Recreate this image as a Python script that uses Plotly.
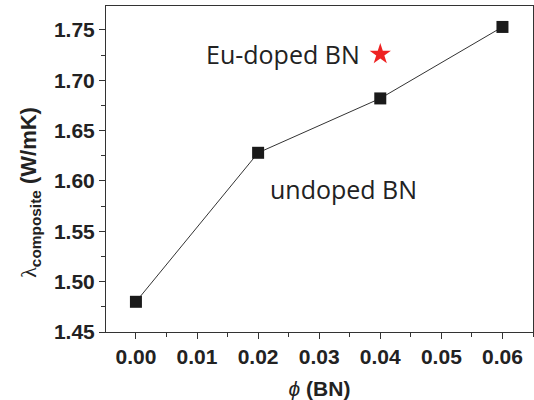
import plotly.graph_objects as go

phi = [0.00, 0.02, 0.04, 0.06]
lam = [1.480, 1.628, 1.682, 1.753]
eu_phi = [0.04]
eu_lam = [1.726]
xticks = [0.00, 0.01, 0.02, 0.03, 0.04, 0.05, 0.06]
yticks = [1.45, 1.50, 1.55, 1.60, 1.65, 1.70, 1.75]

fig = go.Figure()
fig.add_trace(go.Scatter(x=phi, y=lam, mode="lines+markers",
                         line=dict(color="#333333", width=1),
                         marker=dict(symbol="square", size=12, color="#1a1a1a"),
                         showlegend=False))
fig.add_trace(go.Scatter(x=eu_phi, y=eu_lam, mode="markers",
                         marker=dict(symbol="star", size=16, color="#ee2222", line=dict(width=0)),
                         showlegend=False))
fig.add_annotation(x=0.0370, y=1.726, text="Eu-doped BN", showarrow=False,
                   xanchor="right", yanchor="middle",
                   font=dict(family="Open Sans", size=25, color="#222222"))
fig.add_annotation(x=0.0339, y=1.592, text="undoped BN", showarrow=False,
                   xanchor="center", yanchor="middle",
                   font=dict(family="Open Sans", size=25, color="#222222"))
# y-axis title
fig.add_annotation(xref="paper", yref="paper", x=-0.178, y=0.43, textangle=-90,
                   text="<span style='font-family:Liberation Serif'>λ</span><sub><b>composite</b></sub> <b>(W/mK)</b>",
                   showarrow=False, xanchor="center", yanchor="middle",
                   font=dict(family="Liberation Sans", size=22, color="#222222"))

axis_font = dict(family="Liberation Sans", size=21, color="#222222")
fig.update_xaxes(range=[-0.0049, 0.0650], tickvals=xticks,
                 ticktext=[f"<b>{v:.2f}</b>" for v in xticks],
                 ticks="outside", ticklen=6, tickwidth=1, tickcolor="#333333",
                 minor=dict(ticks="outside", ticklen=4, dtick=0.005, tickcolor="#333333"),
                 showline=True, linecolor="#333333", linewidth=1, mirror=True,
                 showgrid=False, zeroline=False, tickfont=axis_font, automargin=False,
                 title=dict(text="<i>ϕ</i> <b>(BN)</b>", font=dict(family="Liberation Sans", size=21, color="#222222")))
fig.update_yaxes(range=[1.45, 1.7738], tickvals=yticks,
                 ticktext=[f"<b>{v:.2f}</b>" for v in yticks],
                 ticks="outside", ticklen=6, tickwidth=1, tickcolor="#333333",
                 minor=dict(ticks="outside", ticklen=4, dtick=0.025, tickcolor="#333333"),
                 showline=True, linecolor="#333333", linewidth=1, mirror=True,
                 showgrid=False, zeroline=False, tickfont=axis_font, automargin=False)
fig.update_layout(width=534, height=400, plot_bgcolor="white", paper_bgcolor="white",
                  margin=dict(l=106, r=1, t=6, b=68))
fig.write_html("out.html", config={"displayModeBar": False},
               post_script="document.body.style.margin='0';")
